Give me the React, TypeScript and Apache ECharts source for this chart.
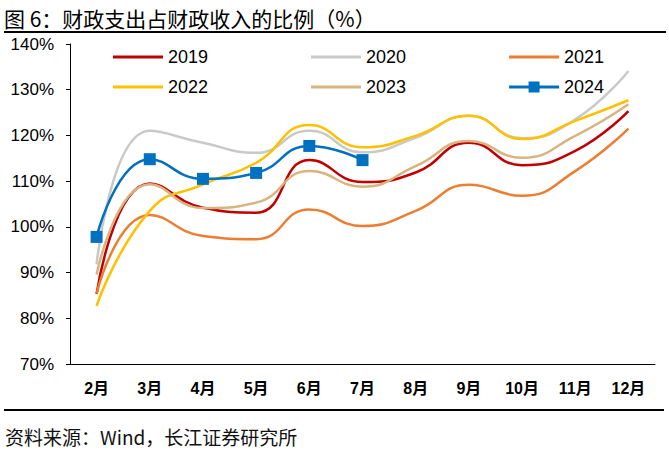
import React, { useEffect, useRef } from "react";
import * as echarts from "echarts";

const months = ["2月", "3月", "4月", "5月", "6月", "7月", "8月", "9月", "10月", "11月", "12月"];
const yTicks = [70, 80, 90, 100, 110, 120, 130, 140];

const s2019 = [85.3, 109.5, 104.2, 103.1, 114.6, 109.8, 111.9, 118.4, 113.5, 116.6, 125.3];
const s2020 = [91.8, 121.0, 118.4, 116.2, 121.0, 116.3, 119.5, 124.3, 119.4, 123.5, 134.1];
const s2021 = [85.4, 102.6, 98.0, 97.3, 103.8, 100.2, 103.5, 109.2, 106.8, 112.2, 121.5];
const s2022 = [82.7, 103.5, 109.3, 114.0, 122.3, 117.4, 119.9, 124.3, 119.2, 123.2, 127.7];
const s2023 = [89.6, 109.3, 104.1, 105.3, 112.2, 108.8, 113.3, 118.8, 115.1, 119.9, 126.8];
const s2024 = [97.8, 114.8, 110.5, 111.8, 117.7, 114.6];

const seriesNames = ["2019", "2020", "2021", "2022", "2023", "2024"];
const seriesData = [s2019, s2020, s2021, s2022, s2023, s2024];
const colors = ["#C00000", "#C9C9C9", "#ED7D31", "#FFC000", "#D9B47E", "#0070C0"];

const FONT = '"Liberation Sans", Arial, "Noto Sans CJK SC", sans-serif';
const CJK = '"Noto Sans CJK SC", sans-serif';
const LINE_ICON = "path://M0,5.5H50V8.5H0Z M0,0H0.01V14H0Z";
const MARKER_ICON = "path://M0,5.5H19.5V1.5H30.5V5.5H50V8.5H30.5V12.5H19.5V8.5H0Z M0,0H0.01V14H0Z";

export default function App() {
  const ref = useRef<HTMLDivElement>(null);
  useEffect(() => {
    if (!ref.current) return;
    const chart = echarts.init(ref.current, undefined, { renderer: "svg" });
    const series = seriesNames.map((name, i) => {
      const is2024 = name === "2024";
      return {
        name,
        type: "line",
        data: seriesData[i],
        smooth: 0.5,
        symbol: is2024 ? "rect" : "none",
        symbolSize: 12,
        showSymbol: is2024,
        lineStyle: { color: colors[i], width: 2.5 },
        itemStyle: { color: colors[i] },
        z: is2024 ? 10 : 2 + i,
      };
    });
    const legendItem = (name: string) => ({
      name,
      icon: name === "2024" ? MARKER_ICON : LINE_ICON,
    });
    const legendCommon = {
      left: 113,
      padding: 0,
      itemWidth: 50,
      itemHeight: 14,
      itemGap: 103,
      textStyle: { fontFamily: FONT, fontSize: 18, color: "#000" },
    };
    chart.setOption({
      animation: false,
      grid: { left: 70, right: 14, top: 44, bottom: 93 },
      legend: [
        { ...legendCommon, top: 48, data: ["2019", "2020", "2021"].map(legendItem) },
        { ...legendCommon, top: 78, data: ["2022", "2023", "2024"].map(legendItem) },
      ],
      xAxis: {
        type: "category",
        data: months,
        boundaryGap: true,
        axisLine: { lineStyle: { color: "#000", width: 1 } },
        axisTick: { inside: true, length: 5, lineStyle: { color: "#000" } },
        axisLabel: { fontFamily: FONT, fontSize: 16, fontWeight: "bold", color: "#000", margin: 16 },
      },
      yAxis: {
        type: "value",
        min: yTicks[0],
        max: yTicks[yTicks.length - 1],
        interval: 10,
        splitLine: { show: false },
        axisLine: { show: true, lineStyle: { color: "#000", width: 1 } },
        axisTick: { show: true, length: 4, lineStyle: { color: "#000" } },
        axisLabel: {
          fontFamily: FONT,
          fontSize: 17,
          color: "#000",
          margin: 16,
          formatter: (v: number) => v + "%",
        },
      },
      graphic: [
        {
          type: "text",
          left: 4,
          top: 7,
          style: {
            text: "图 6：财政支出占财政收入的比例（%）",
            fontFamily: CJK,
            fontSize: 21,
            fill: "#000",
          },
        },
        {
          type: "line",
          shape: { x1: 4, y1: 32, x2: 666, y2: 32 },
          style: { stroke: "#000", lineWidth: 2 },
        },
        {
          type: "line",
          shape: { x1: 4, y1: 410, x2: 664, y2: 410 },
          style: { stroke: "#000", lineWidth: 2 },
        },
        {
          type: "text",
          left: 5,
          top: 427,
          style: {
            text: "资料来源：Wind，长江证券研究所",
            fontFamily: CJK,
            fontSize: 19,
            fill: "#111",
          },
        },
      ],
      series,
    });
    return () => chart.dispose();
  }, []);
  return <div ref={ref} style={{ width: 669, height: 457, position: "absolute", left: 0, top: 0 }} />;
}
